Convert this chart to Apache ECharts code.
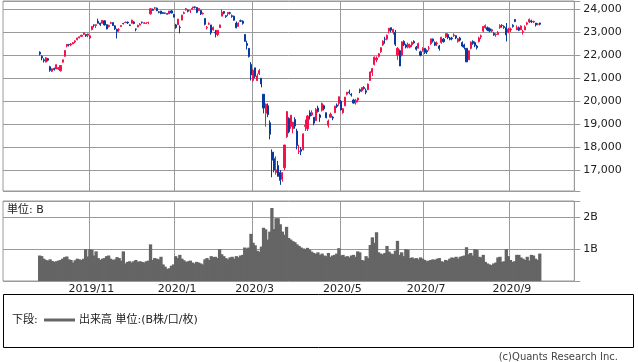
<!DOCTYPE html>
<html><head><meta charset="utf-8">
<script src="https://cdn.jsdelivr.net/npm/echarts@6/dist/echarts.min.js"></script>
<style>html,body{margin:0;padding:0;background:#fff}#c{width:638px;height:362px}</style>
</head><body><div id="c"></div>
<script>
const dates = [
'2019/09/26','2019/09/27','2019/09/30',
'2019/10/01','2019/10/02','2019/10/03','2019/10/04','2019/10/07','2019/10/08','2019/10/09','2019/10/10','2019/10/11','2019/10/15','2019/10/16','2019/10/17','2019/10/18','2019/10/21','2019/10/23','2019/10/24','2019/10/25','2019/10/28','2019/10/29','2019/10/30','2019/10/31',
'2019/11/01','2019/11/05','2019/11/06','2019/11/07','2019/11/08','2019/11/11','2019/11/12','2019/11/13','2019/11/14','2019/11/15','2019/11/18','2019/11/19','2019/11/20','2019/11/21','2019/11/22','2019/11/25','2019/11/26','2019/11/27','2019/11/28','2019/11/29',
'2019/12/02','2019/12/03','2019/12/04','2019/12/05','2019/12/06','2019/12/09','2019/12/10','2019/12/11','2019/12/12','2019/12/13','2019/12/16','2019/12/17','2019/12/18','2019/12/19','2019/12/20','2019/12/23','2019/12/24','2019/12/25','2019/12/26','2019/12/27','2019/12/30',
'2020/01/06','2020/01/07','2020/01/08','2020/01/09','2020/01/10','2020/01/14','2020/01/15','2020/01/16','2020/01/17','2020/01/20','2020/01/21','2020/01/22','2020/01/23','2020/01/24','2020/01/27','2020/01/28','2020/01/29','2020/01/30','2020/01/31',
'2020/02/03','2020/02/04','2020/02/05','2020/02/06','2020/02/07','2020/02/10','2020/02/12','2020/02/13','2020/02/14','2020/02/17','2020/02/18','2020/02/19','2020/02/20','2020/02/21','2020/02/25','2020/02/26','2020/02/27','2020/02/28',
'2020/03/02','2020/03/03','2020/03/04','2020/03/05','2020/03/06','2020/03/09','2020/03/10','2020/03/11','2020/03/12','2020/03/13','2020/03/16','2020/03/17','2020/03/18','2020/03/19','2020/03/23','2020/03/24','2020/03/25','2020/03/26','2020/03/27','2020/03/30','2020/03/31',
'2020/04/01','2020/04/02','2020/04/03','2020/04/06','2020/04/07','2020/04/08','2020/04/09','2020/04/10','2020/04/13','2020/04/14','2020/04/15','2020/04/16','2020/04/17','2020/04/20','2020/04/21','2020/04/22','2020/04/23','2020/04/24','2020/04/27','2020/04/28','2020/04/30',
'2020/05/01','2020/05/07','2020/05/08','2020/05/11','2020/05/12','2020/05/13','2020/05/14','2020/05/15','2020/05/18','2020/05/19','2020/05/20','2020/05/21','2020/05/22','2020/05/25','2020/05/26','2020/05/27','2020/05/28','2020/05/29',
'2020/06/01','2020/06/02','2020/06/03','2020/06/04','2020/06/05','2020/06/08','2020/06/09','2020/06/10','2020/06/11','2020/06/12','2020/06/15','2020/06/16','2020/06/17','2020/06/18','2020/06/19','2020/06/22','2020/06/23','2020/06/24','2020/06/25','2020/06/26','2020/06/29','2020/06/30',
'2020/07/01','2020/07/02','2020/07/03','2020/07/06','2020/07/07','2020/07/08','2020/07/09','2020/07/10','2020/07/13','2020/07/14','2020/07/15','2020/07/16','2020/07/17','2020/07/20','2020/07/21','2020/07/22','2020/07/27','2020/07/28','2020/07/29','2020/07/30','2020/07/31',
'2020/08/03','2020/08/04','2020/08/05','2020/08/06','2020/08/07','2020/08/11','2020/08/12','2020/08/13','2020/08/14','2020/08/17','2020/08/18','2020/08/19','2020/08/20','2020/08/21','2020/08/24','2020/08/25','2020/08/26','2020/08/27','2020/08/28','2020/08/31',
'2020/09/01','2020/09/02','2020/09/03','2020/09/04','2020/09/07','2020/09/08','2020/09/09','2020/09/10','2020/09/11','2020/09/14','2020/09/15','2020/09/16','2020/09/17','2020/09/18','2020/09/23'
];
const opens = [
22130,21950,21800,21700,21850,21500,21300,21420,21400,21400,
21320,21700,21950,22400,22470,22450,22490,22580,22680,22760,
22820,22910,22900,22870,22750,23120,23320,23290,23480,23400,
23390,23500,23330,23250,23390,23420,23280,23130,23100,23250,
23380,23420,23440,23320,23390,23450,23140,23230,23310,23440,
23390,23380,23420,23800,24000,24050,24050,23890,23920,23860,
23840,23810,23800,23930,23770,23320,23330,23220,23530,23820,
23969,23960,23930,24000,24100,24080,23950,23950,23800,23600,
23190,23350,23320,23100,23000,22900,23200,23700,23900,23720,
23800,23850,23720,23700,23400,23250,23500,23480,22900,22510,
22300,21600,20900,21450,20900,21200,21000,20300,19470,19800,
19064,17780,17500,16900,17200,16900,16600,17100,18450,19250,
18900,18800,19200,18700,17800,17900,17900,18900,18800,19500,
19400,19300,19150,19700,19400,19600,19800,19500,18950,19300,
19300,19500,19830,19900,20000,19500,19800,20300,20400,20300,
20050,19950,20050,20500,20450,20600,20450,20500,20900,21250,
21600,21800,21950,22150,22450,22700,22700,23050,23200,23000,
23000,22000,22200,22000,22600,22450,22350,22350,22450,22600,
22350,22300,22150,22200,22300,22200,22300,22500,22700,22550,
22500,22400,22550,22700,22800,22900,22750,22750,22850,22850,
22600,22750,22550,22450,22300,21800,22300,22600,22550,22400,
22600,22800,23050,23200,23200,23150,23050,22950,22900,22900,
23200,23300,23250,23200,23000,23100,23300,23550,23100,23200,
23100,23000,23100,23350,23450,23500,23450,23400,23350,23400
];
const highs = [
22170,22000,21870,21920,21880,21540,21430,21460,21600,21480,
21560,21810,22220,22490,22490,22530,22570,22650,22760,22820,
22890,22990,22930,22940,22880,23275,23340,23340,23590,23410,
23520,23510,23340,23330,23460,23430,23300,23150,23180,23310,
23410,23460,23460,23340,23540,23480,23160,23330,23400,23460,
23440,23440,23460,24050,24030,24090,24070,23920,23930,23870,
23850,23830,23930,23960,23800,23365,23578,23300,23767,23903,
24060,23990,23970,24115,24110,24090,24040,23960,23860,23600,
23270,23430,23320,23250,23100,23100,23330,23995,23920,23740,
23870,23890,23770,23720,23470,23430,23550,23520,22920,22630,
22300,21700,21400,21450,21200,21400,21000,20300,19900,19900,
19163,17900,17800,17600,17400,17000,16900,18100,19560,19300,
19400,19100,19300,18800,18100,18000,18600,19200,19400,19600,
19600,19300,19700,19800,19450,19940,19850,19500,19200,19500,
19350,19800,19900,20200,20050,19700,20180,20400,20500,20350,
20100,20100,20150,20550,20600,20650,20550,20770,21300,21450,
21950,21950,22100,22350,22650,22800,22900,23180,23200,23150,
23100,22350,22250,22600,22650,22500,22550,22500,22600,22650,
22400,22550,22200,22350,22300,22250,22400,22720,22730,22600,
22600,22450,22800,22750,22950,22950,22800,22800,22950,22860,
22750,22800,22600,22500,22300,22200,22600,22650,22600,22450,
22800,22900,23250,23340,23250,23200,23150,23000,22950,23050,
23350,23350,23300,23400,23200,23200,23350,23580,23300,23250,
23300,23100,23300,23450,23600,23550,23500,23400,23400,23420
];
const lows = [
21990,21780,21680,21690,21730,21280,21270,21330,21390,21360,
21290,21670,21940,22340,22380,22390,22480,22520,22650,22730,
22800,22880,22800,22780,22700,23080,23210,23190,23380,23270,
23380,23290,23130,23200,23360,23270,23100,22730,23020,23230,
23340,23400,23360,23270,23380,23350,23040,23220,23300,23370,
23360,23370,23350,23770,23930,24010,23920,23820,23780,23800,
23800,23780,23790,23820,23650,23150,23320,22951,23520,23783,
23950,23870,23840,23990,24030,23830,23930,23750,23770,23300,
23120,23320,22892,23070,22775,22830,23180,23700,23780,23630,
23700,23770,23630,23500,23170,23250,23450,23330,22600,22250,
21900,20900,20850,21000,20880,21140,20600,19470,18890,19300,
18339,16690,16900,16800,16720,16358,16500,17000,18400,18600,
18800,18600,18800,17900,17700,17650,17850,18700,18700,19200,
19350,18950,19150,19500,19100,19550,19600,19250,18850,19300,
19170,19500,19700,19800,19600,19450,19780,20250,20300,20200,
19900,19850,19950,20350,20400,20500,20300,20480,20900,21100,
21550,21700,21900,22100,22400,22500,22650,22950,23000,22900,
22400,21800,21530,21950,22400,22300,22300,22300,22350,22500,
22200,22300,21950,22150,22050,22050,22200,22450,22550,22400,
22400,22200,22500,22550,22750,22700,22650,22650,22800,22700,
22550,22600,22350,22250,21710,21800,22250,22450,22350,22250,
22550,22700,23000,23150,23050,23000,23000,22850,22800,22900,
23150,23200,23150,22600,22950,23000,23200,23440,23100,23050,
23100,22900,23100,23300,23400,23400,23400,23250,23300,23300
];
const closes = [
22048,21878,21756,21886,21779,21342,21410,21375,21588,21457,
21552,21799,22208,22473,22452,22493,22549,22625,22751,22800,
22868,22974,22844,22927,22851,23252,23304,23330,23392,23332,
23520,23320,23141,23303,23417,23293,23149,23038,23113,23293,
23373,23438,23409,23294,23529,23380,23135,23300,23354,23430,
23410,23391,23424,24023,23952,24066,23934,23865,23816,23821,
23830,23783,23925,23837,23657,23205,23575,23204,23740,23851,
24025,23917,23933,24041,24083,23865,24031,23795,23827,23344,
23216,23379,22977,23205,22972,23084,23320,23873,23828,23686,
23861,23828,23688,23523,23194,23401,23479,23387,22605,22426,
21948,21143,21344,21083,21100,21329,20750,19699,19867,19416,
18560,17431,17002,17012,16727,16553,16888,18092,19547,18665,
19389,19084,18917,18066,17819,17820,18576,18950,19353,19346,
19498,19043,19639,19551,19290,19897,19669,19281,19138,19429,
19262,19784,19772,20194,19619,19675,20179,20390,20366,20267,
19915,20037,20134,20433,20595,20552,20388,20742,21271,21419,
21916,21878,22062,22326,22614,22695,22864,23178,23091,23124,
22473,22305,21531,22582,22455,22355,22478,22437,22549,22534,
22259,22512,21995,22288,22122,22145,22306,22714,22614,22438,
22529,22291,22784,22587,22945,22770,22696,22717,22884,22751,
22715,22657,22397,22339,21710,22195,22574,22514,22418,22329,
22750,22843,23249,23289,23097,23051,23110,22880,22920,22985,
23296,23290,23209,22882,23140,23138,23247,23465,23205,23089,
23274,23032,23235,23406,23559,23454,23475,23319,23360,23346
];
// volume in billions of shares
const volumes = [
0.80,0.78,0.70,0.66,0.64,0.68,0.63,0.60,0.62,0.64,
0.66,0.70,0.75,0.77,0.68,0.66,0.58,0.65,0.70,0.68,
0.66,0.70,1.00,0.77,1.00,0.98,0.80,0.93,0.72,0.66,
0.70,0.72,0.78,0.80,0.70,0.66,0.68,0.75,0.72,0.64,
0.93,0.55,0.60,0.62,0.58,0.62,0.66,0.60,0.62,0.60,
0.58,0.62,0.64,1.15,0.66,0.72,0.70,0.68,0.76,0.52,
0.45,0.38,0.40,0.48,0.52,0.78,0.72,0.82,0.70,0.65,
0.60,0.62,0.64,0.58,0.55,0.60,0.58,0.55,0.52,0.68,
0.72,0.66,0.78,0.75,0.76,0.72,1.00,0.84,0.78,0.72,
0.68,0.74,0.76,0.70,0.78,0.74,0.80,0.82,1.05,1.02,
1.05,1.48,1.20,1.12,0.95,0.92,1.08,1.67,1.62,1.30,
1.55,2.29,1.63,1.97,1.97,1.78,1.55,1.45,1.70,1.35,
1.30,1.25,1.22,1.15,1.10,1.05,1.02,1.00,1.04,0.98,
0.92,0.88,0.85,0.90,0.82,0.86,0.80,0.78,0.88,0.76,
0.80,0.82,0.86,1.03,0.80,0.82,0.76,0.78,0.74,0.80,
0.82,0.76,0.93,0.90,0.66,0.64,0.78,0.72,1.13,1.37,
1.20,1.53,0.90,0.86,0.84,0.88,1.10,0.92,0.86,0.84,
0.95,1.26,0.82,0.90,0.78,1.00,0.98,0.72,0.74,0.70,
0.72,0.68,0.74,0.70,0.66,0.62,0.64,0.66,0.68,0.66,
0.70,0.72,0.62,0.60,0.66,0.64,0.70,0.74,0.72,0.76,
0.70,0.76,0.78,0.80,1.06,0.84,0.88,0.80,1.00,0.98,
0.76,0.74,0.82,0.60,0.55,0.52,0.50,0.55,0.58,0.74,
0.76,0.60,0.62,1.00,0.78,0.66,0.60,0.62,0.82,0.82,
0.74,0.70,0.66,0.76,0.64,0.82,0.80,0.70,0.66,0.86
];
const priceTickLabels = [17000,18000,19000,20000,21000,22000,23000,24000];
const volumeTickLabels = {1:'1B', 2:'2B'};

const PAD_L = 17, PAD_R = 16;
const cats = [];
for (let i = 0; i < PAD_L; i++) cats.push('pl' + i);
dates.forEach(d => cats.push(d));
for (let i = 0; i < PAD_R; i++) cats.push('pr' + i);

// gridline/label at the first trading day of every odd month
function isTickDay(ci) {
  const i = ci - PAD_L;
  if (i <= 0 || i >= dates.length) return false;
  if (dates[i].slice(0, 7) === dates[i - 1].slice(0, 7)) return false;
  return (+dates[i].slice(5, 7)) % 2 === 1;
}
const candleData = dates.map((d, i) => [i + PAD_L, opens[i], closes[i], lows[i], highs[i]]);
const volData = dates.map((d, i) => [i + PAD_L, volumes[i]]);

const GRID = '#9a9a9a';
const FONT = 'DejaVu Sans, "Noto Sans CJK JP", sans-serif';
const UP = '#f5124a', DOWN = '#063a9e';

function renderVolume(params, api) {
  const x = api.value(0), v = api.value(1);
  const top = api.coord([x, v]);
  const base = api.coord([x, 0]);
  const w = api.size([1, 0])[0];
  return {
    type: 'rect',
    shape: {x: top[0] - w / 2 - 0.6, y: top[1], width: w + 1.2, height: base[1] - top[1]},
    style: {fill: '#656565', stroke: null}
  };
}

const chart = echarts.init(document.getElementById('c'), null, {renderer: 'canvas'});
chart.setOption({
  animation: false,
  backgroundColor: '#fff',
  grid: [
    {left: 3, top: 1, width: 571.3, height: 190, show: true, borderColor: GRID, borderWidth: 1},
    {left: 3, top: 201, width: 571.3, height: 80, show: true, borderColor: GRID, borderWidth: 1}
  ],
  xAxis: [
    {type: 'category', gridIndex: 0, data: cats, boundaryGap: true,
     axisLine: {show: false}, axisTick: {show: false}, axisLabel: {show: false},
     splitLine: {show: true, interval: (idx) => isTickDay(idx), lineStyle: {color: GRID, width: 1}}},
    {type: 'category', gridIndex: 1, data: cats, boundaryGap: true,
     axisLine: {show: false}, axisTick: {show: false},
     axisLabel: {show: true, interval: (idx) => isTickDay(idx), margin: 3, padding: [0, 0, 0, 3],
       fontSize: 11, fontFamily: FONT, color: '#222',
       formatter: (v) => { const p = v.split('/'); return p.length === 3 ? p[0] + '/' + (+p[1]) : ''; }},
     splitLine: {show: true, interval: (idx) => isTickDay(idx), lineStyle: {color: GRID, width: 1}}}
  ],
  yAxis: [
    {type: 'value', gridIndex: 0, position: 'right', min: 16090, max: 24360, splitNumber: 8, scale: true,
     axisLine: {show: false}, axisTick: {show: true, length: 6, lineStyle: {color: GRID}},
     axisLabel: {margin: 9, fontSize: 11, fontFamily: FONT, color: '#222',
       formatter: (v) => priceTickLabels.indexOf(v) >= 0 ? v.toLocaleString('en-US') : ''},
     splitLine: {show: true, lineStyle: {color: GRID, width: 1}}},
    {type: 'value', gridIndex: 1, position: 'right', min: 0, max: 2.51, interval: 1,
     axisLine: {show: false}, axisTick: {show: true, length: 6, lineStyle: {color: GRID}},
     axisLabel: {margin: 9, fontSize: 11, fontFamily: FONT, color: '#222',
       formatter: (v) => volumeTickLabels[v] || ''},
     splitLine: {show: true, lineStyle: {color: GRID, width: 1}}}
  ],
  series: [
    {type: 'candlestick', xAxisIndex: 0, yAxisIndex: 0, data: candleData,
     encode: {x: 0, y: [1, 2, 3, 4]}, barWidth: 1.6,
     itemStyle: {color: UP, color0: DOWN, borderColor: UP, borderColor0: DOWN, borderWidth: 1}},
    {type: 'custom', xAxisIndex: 1, yAxisIndex: 1, data: volData, encode: {x: 0, y: 1},
     renderItem: renderVolume}
  ],
  graphic: [
    {type: 'text', x: 7, y: 210, style: {text: '単位: B', font: '11px ' + FONT, fill: '#222', verticalAlign: 'middle'}},
    {type: 'rect', shape: {x: 3.5, y: 294.5, width: 630, height: 53}, style: {fill: 'none', stroke: '#000', lineWidth: 1}},
    {type: 'text', x: 12, y: 320, style: {text: '下段:', font: '11px ' + FONT, fill: '#222', verticalAlign: 'middle'}},
    {type: 'line', shape: {x1: 44, y1: 320, x2: 75, y2: 320}, style: {stroke: '#666', lineWidth: 3}},
    {type: 'text', x: 79, y: 320, style: {text: '出来高 単位:(B株/口/枚)', font: '11px ' + FONT, fill: '#222', verticalAlign: 'middle'}},
    {type: 'text', x: 618, y: 357, style: {text: '(c)Quants Research Inc.', font: '10px ' + FONT, fill: '#444', align: 'right', verticalAlign: 'middle'}}
  ]
});
</script>
</body></html>
